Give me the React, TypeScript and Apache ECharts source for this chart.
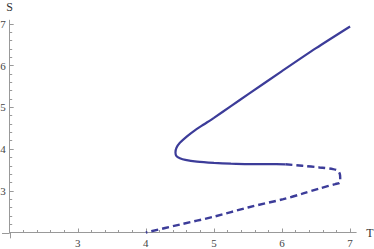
import React, { useEffect, useRef } from "react";
import * as echarts from "echarts";

// Upper (stable) branch, solid line
const T_SOLID = [7.0, 6.5, 6.0, 5.5, 5.25, 5.0, 4.85, 4.72, 4.6, 4.5, 4.45, 4.435, 4.45, 4.5, 4.58, 4.75, 5.0, 5.25, 5.5, 5.8, 6.05];
const S_SOLID = [6.94, 6.42, 5.87, 5.31, 5.03, 4.75, 4.59, 4.45, 4.3, 4.15, 4.03, 3.92, 3.83, 3.78, 3.74, 3.7, 3.67, 3.65, 3.64, 3.64, 3.635];

// Lower (unstable) branch, dashed line
const T_DASH = [6.05, 6.3, 6.55, 6.75, 6.82, 6.85, 6.855, 6.85, 6.78, 6.56, 6.3, 6.02, 5.5, 5.0, 4.5, 4.0];
const S_DASH = [3.635, 3.6, 3.56, 3.52, 3.48, 3.4, 3.3, 3.2, 3.16, 3.06, 2.93, 2.8, 2.6, 2.38, 2.19, 2.0];

const X_MAJOR = [3, 4, 5, 6, 7];
const Y_MAJOR = [3, 4, 5, 6, 7];
const AXIS_ORIGIN = [2, 2];
const PLOT_LOW = [1.887, 1.86];
const PLOT_HIGH = [7.09, 7.09];

const minorOf = (lo: number, hi: number) => {
  const out: number[] = [];
  for (let v = lo; v <= hi + 1e-9; v += 1) {
    for (let k = 1; k < 5; k++) out.push(+(v + k * 0.2).toFixed(2));
  }
  return out;
};

const LINE_COLOR = "#3c3c99";
const AXIS_COLOR = "#999";
const FONT = "'Liberation Serif', 'Times New Roman', serif";

export default function App() {
  const ref = useRef<HTMLDivElement>(null);
  useEffect(() => {
    if (!ref.current) return;
    const chart = echarts.init(ref.current, undefined, { renderer: "svg" });
    const xMinor = minorOf(2, 6);
    const yMinor = minorOf(2, 6);
    const baseX = {
      type: "value",
      min: AXIS_ORIGIN[0],
      max: PLOT_HIGH[0],
      position: "bottom",
      splitLine: { show: false },
    };
    const baseY = {
      type: "value",
      min: AXIS_ORIGIN[1],
      max: PLOT_HIGH[1],
      position: "left",
      splitLine: { show: false },
    };
    chart.setOption({
      animation: false,
      grid: { left: 9.7, right: 17.8, top: 20.2, bottom: 16.5, containLabel: false, outerBoundsMode: "none" },
      xAxis: [
        {
          ...baseX,
          name: "T",
          nameLocation: "end",
          nameGap: 10,
          nameTextStyle: { fontFamily: FONT, fontSize: 12, color: "#333", verticalAlign: "middle" },
          axisLine: { show: true, lineStyle: { color: AXIS_COLOR, width: 1 } },
          axisTick: { show: true, inside: true, length: 4, customValues: X_MAJOR, lineStyle: { color: AXIS_COLOR } },
          axisLabel: { show: true, customValues: X_MAJOR, margin: 5, fontFamily: FONT, fontSize: 11, color: "#444" },
        },
        {
          ...baseX,
          axisLine: { show: false },
          axisTick: { show: true, inside: true, length: 2.5, customValues: xMinor, lineStyle: { color: AXIS_COLOR } },
          axisLabel: { show: false },
        },
      ],
      yAxis: [
        {
          ...baseY,
          name: "S",
          nameLocation: "end",
          nameGap: 7,
          nameTextStyle: { fontFamily: FONT, fontSize: 12, color: "#333", align: "center" },
          axisLine: { show: true, lineStyle: { color: AXIS_COLOR, width: 1 } },
          axisTick: { show: true, inside: true, length: 4, customValues: Y_MAJOR, lineStyle: { color: AXIS_COLOR } },
          axisLabel: { show: true, customValues: Y_MAJOR, margin: 4, fontFamily: FONT, fontSize: 11, color: "#444" },
        },
        {
          ...baseY,
          axisLine: { show: false },
          axisTick: { show: true, inside: true, length: 2.5, customValues: yMinor, lineStyle: { color: AXIS_COLOR } },
          axisLabel: { show: false },
        },
      ],
      series: [
        {
          type: "line",
          xAxisIndex: 0,
          yAxisIndex: 0,
          data: T_SOLID.map((t, i) => [t, S_SOLID[i]]),
          showSymbol: false,
          symbol: "none",
          smooth: 0.25,
          clip: false,
          lineStyle: { color: LINE_COLOR, width: 2.2 },
        },
        {
          type: "line",
          xAxisIndex: 0,
          yAxisIndex: 0,
          data: T_DASH.map((t, i) => [t, S_DASH[i]]),
          showSymbol: false,
          symbol: "none",
          smooth: 0.3,
          clip: false,
          lineStyle: { color: LINE_COLOR, width: 2.4, type: [7, 4], cap: "butt" },
        },
      ],
    });
    // Axis extensions below/left of the origin (Mathematica-style crossing axes)
    const o = chart.convertToPixel({ gridIndex: 0 }, AXIS_ORIGIN) as number[];
    const lo = chart.convertToPixel({ gridIndex: 0 }, PLOT_LOW) as number[];
    chart.setOption({
      graphic: [
        {
          type: "line",
          shape: { x1: lo[0], y1: Math.round(o[1]) + 0.5, x2: o[0], y2: Math.round(o[1]) + 0.5 },
          style: { stroke: AXIS_COLOR, lineWidth: 1 },
          silent: true,
        },
        {
          type: "line",
          shape: { x1: Math.round(o[0]) + 0.5, y1: o[1], x2: Math.round(o[0]) + 0.5, y2: lo[1] },
          style: { stroke: AXIS_COLOR, lineWidth: 1 },
          silent: true,
        },
      ],
    });
    return () => chart.dispose();
  }, []);
  return <div ref={ref} style={{ width: 374, height: 249, position: "absolute", left: 0, top: 0 }} />;
}
